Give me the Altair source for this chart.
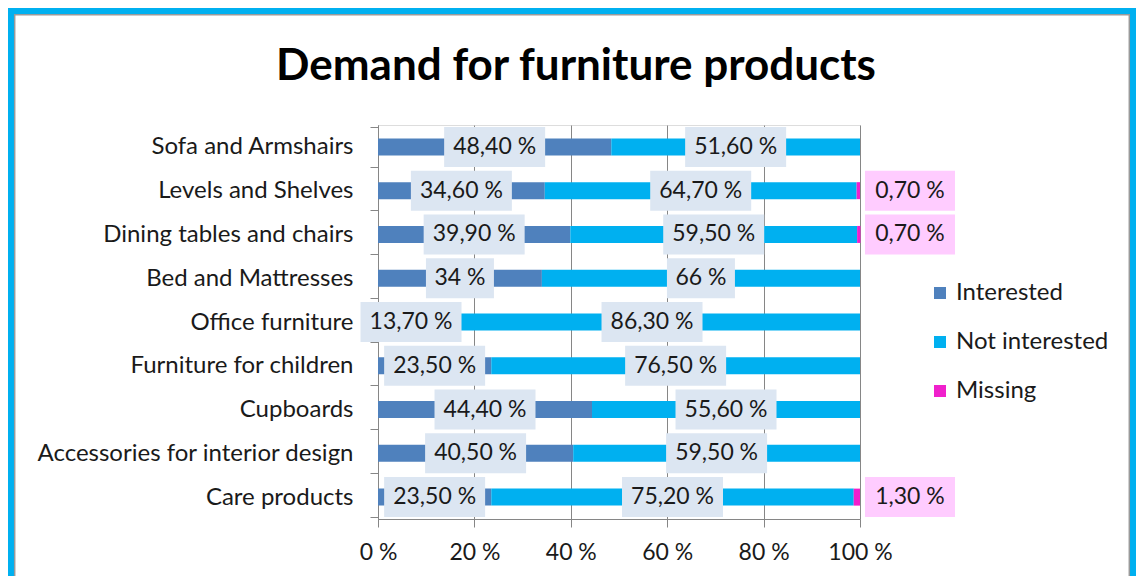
import altair as alt
import pandas as pd

# ---------------- data ----------------
categories = [
    "Sofa and Armshairs",
    "Levels and Shelves",
    "Dining tables and chairs",
    "Bed and Mattresses",
    "Office furniture",
    "Furniture for children",
    "Cupboards",
    "Accessories for interior design",
    "Care products",
]
series = ["Interested", "Not interested", "Missing"]
interested = [48.4, 34.6, 39.9, 34.0, 13.7, 23.5, 44.4, 40.5, 23.5]
not_interested = [51.6, 64.7, 59.5, 66.0, 86.3, 76.5, 55.6, 59.5, 75.2]
missing = [0.0, 0.7, 0.7, 0.0, 0.0, 0.0, 0.0, 0.0, 1.3]
x_ticks = [0, 20, 40, 60, 80, 100]
colors = ["#4f81bd", "#00b0f0", "#f020cc"]
title_text = "Demand for furniture products"

# ---------------- layout ----------------
PLOT_W, PLOT_H = 482, 394
PAD = {"left": 370, "top": 117, "right": 276, "bottom": 57}
PX = PLOT_W / 100.0  # pixels per percent unit


def fmt(v):
    if abs(v - round(v)) < 1e-9:
        return f"{int(round(v))} %"
    return f"{v:.2f}".replace(".", ",") + " %"


rows = []
for i, cat in enumerate(categories):
    start = 0.0
    for s, vals in zip(series, [interested, not_interested, missing]):
        v = vals[i]
        end = start + v
        if v > 0:
            lab = fmt(v)
            bw = 11 * len(lab) + 24  # label box width in px
            if s == "Missing":
                lo = 100 + 5 / PX
                hi = lo + bw / PX
                mid = (lo + hi) / 2
            else:
                mid = (start + end) / 2
                lo = mid - bw / 2 / PX
                hi = mid + bw / 2 / PX
            rows.append(dict(category=cat, series=s, order=series.index(s),
                             start=start, end=end, mid=mid, lo=lo, hi=hi, label=lab))
        start = end

df = pd.DataFrame(rows)

FONT = "Lato"
TXT = "#1a1a1a"
GRAY = "#868686"

y_axis = alt.Axis(
    title=None, labelFontSize=24, labelFont=FONT, labelColor=TXT,
    labelLimit=0, tickSize=8, labelPadding=17, tickBand="extent",
    domainColor=GRAY, tickColor=GRAY, grid=False,
)
x_axis = alt.Axis(
    title=None, values=x_ticks, labelExpr="datum.value + ' %'",
    labelFontSize=23, labelFont=FONT, labelColor=TXT, labelFlush=False,
    tickSize=8, labelPadding=14, domainColor=GRAY, tickColor=GRAY,
    grid=True, gridColor=GRAY, gridWidth=1,
)
y_enc = alt.Y("category:N", sort=categories, axis=y_axis)
x_scale = alt.Scale(domain=[0, 100], nice=False, zero=False)

bars = alt.Chart(df).mark_bar(size=17).encode(
    y=y_enc,
    x=alt.X("start:Q", scale=x_scale, axis=x_axis),
    x2="end:Q",
    color=alt.Color(
        "series:N",
        scale=alt.Scale(domain=series, range=colors),
        legend=alt.Legend(
            title=None, orient="none", legendX=550, legendY=156,
            symbolType="square", symbolSize=144, symbolStrokeWidth=0,
            labelFontSize=24, labelFont=FONT, labelColor=TXT,
            rowPadding=25, labelOffset=4, padding=0,
        ),
    ),
    order=alt.Order("order:Q"),
)

boxes = alt.Chart(df).mark_bar(size=40).encode(
    y=y_enc,
    x=alt.X("lo:Q", scale=x_scale, axis=x_axis),
    x2="hi:Q",
    color=alt.condition(alt.datum.series == "Missing",
                        alt.value("#ffccff"), alt.value("#dce6f2")),
)

texts = alt.Chart(df).mark_text(font=FONT, fontSize=23, color=TXT).encode(
    y=y_enc,
    x=alt.X("mid:Q", scale=x_scale, axis=x_axis),
    text="label:N",
)

frame_data = alt.Data(values=[{"k": 1}])
frame = alt.Chart(frame_data).mark_rect(
    fill=None, stroke="#00b0f0", strokeWidth=6
).encode(
    x=alt.value(-367), x2=alt.value(755),
    y=alt.value(-114), y2=alt.value(520),
)
inner = alt.Chart(frame_data).mark_rect(
    fill=None, stroke="#9a9a9a", strokeWidth=1.5
).encode(
    x=alt.value(-363.3), x2=alt.value(751.3),
    y=alt.value(-110.3), y2=alt.value(520),
)
title = alt.Chart(frame_data).mark_text(
    text=title_text, font=FONT, fontSize=44, fontWeight="bold",
    color="#000000", align="center", baseline="alphabetic",
).encode(x=alt.value(198), y=alt.value(-45))

chart = alt.layer(frame, inner, title, bars, boxes, texts).properties(
    width=PLOT_W,
    height=PLOT_H,
    padding=PAD,
    autosize=alt.AutoSizeParams(type="none"),
).configure_view(stroke=None).configure(background="white")

chart.save("out.html", embed_options={"renderer": "svg", "actions": False})
